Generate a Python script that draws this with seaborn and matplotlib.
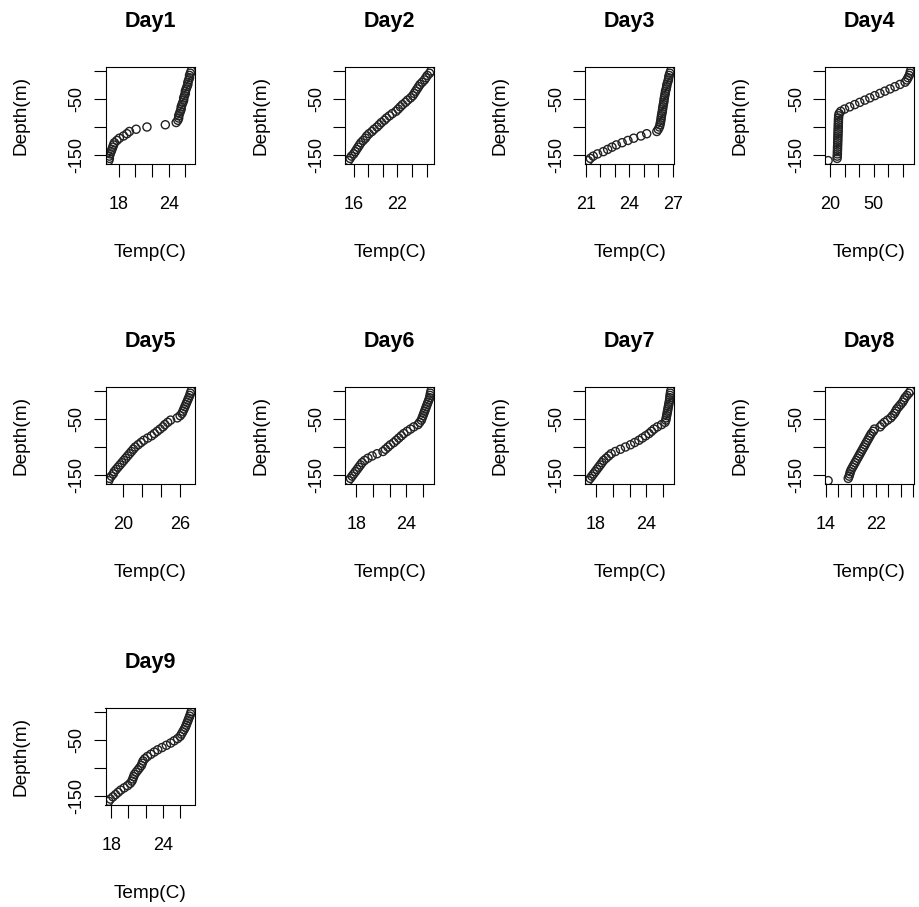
import matplotlib
matplotlib.use("Agg")
import matplotlib.pyplot as plt
import seaborn as sns
import pandas as pd

# Sampling depths (m), shared by every daily profile
DEPTH = [0, -4, -8, -12, -16, -20, -24, -28, -32, -36, -40, -44, -48, -52,
         -56, -60, -64, -68, -72, -76, -80, -84, -88, -92, -96, -100, -104,
         -108, -112, -116, -120, -124, -128, -132, -136, -140, -144, -148,
         -152, -156, -160]

DAYS = ["Day1", "Day2", "Day3", "Day4", "Day5", "Day6", "Day7", "Day8", "Day9"]

TEMP_DAY1 = [26.7, 26.6, 26.5, 26.5, 26.4, 26.3, 26.3, 26.2, 26.1, 26.0, 26.0,
             25.9, 25.8, 25.8, 25.7, 25.6, 25.5, 25.5, 25.4, 25.3, 25.2, 25.2,
             25.1, 24.9, 23.6, 21.4, 20.1, 19.3, 19.0, 18.6, 18.1, 17.8, 17.5,
             17.4, 17.3, 17.2, 17.1, 17.0, 16.9, 16.9, 16.83]
TEMP_DAY2 = [26.6, 26.4, 26.1, 25.9, 25.7, 25.4, 25.1, 24.9, 24.7, 24.5, 24.3,
             24.1, 23.8, 23.4, 23.1, 22.7, 22.4, 22.1, 21.8, 21.3, 20.9, 20.5,
             20.2, 19.8, 19.5, 19.2, 18.8, 18.5, 18.1, 17.8, 17.6, 17.3, 17.0,
             16.8, 16.6, 16.4, 16.2, 16.0, 15.7, 15.5, 15.3]
TEMP_DAY3 = [26.86, 26.8, 26.75, 26.72, 26.7, 26.65, 26.6, 26.58, 26.55, 26.5,
             26.48, 26.45, 26.42, 26.4, 26.38, 26.35, 26.32, 26.3, 26.28, 26.25,
             26.22, 26.2, 26.18, 26.15, 26.12, 26.08, 26.0, 25.9, 25.2, 24.8,
             24.3, 23.9, 23.5, 23.1, 22.8, 22.5, 22.2, 21.8, 21.5, 21.3, 21.16]
TEMP_DAY4 = [75.1, 74.8, 74.2, 73.4, 72.6, 71.4, 67.9, 64.5, 61.1, 57.6, 54.2,
             50.7, 47.3, 43.9, 40.4, 37.0, 33.5, 30.0, 27.4, 26.3, 26.0, 25.9,
             25.8, 25.8, 25.7, 25.7, 25.6, 25.6, 25.5, 25.5, 25.4, 25.4, 25.3,
             25.3, 25.2, 25.2, 25.1, 25.1, 25.0, 24.9, 18.75]
TEMP_DAY5 = [27.16, 27.08, 27.0, 26.9, 26.8, 26.7, 26.6, 26.5, 26.4, 26.3, 26.2,
             26.0, 25.7, 25.0, 24.7, 24.4, 24.2, 23.9, 23.6, 23.3, 23.0, 22.6,
             22.2, 21.9, 21.6, 21.3, 21.1, 20.9, 20.7, 20.5, 20.3, 20.1, 19.9,
             19.7, 19.5, 19.3, 19.1, 19.0, 18.8, 18.6, 18.53]
TEMP_DAY6 = [26.96, 26.9, 26.85, 26.8, 26.7, 26.6, 26.5, 26.4, 26.3, 26.2, 26.1,
             26.0, 25.9, 25.8, 25.6, 25.4, 24.9, 24.5, 24.1, 23.7, 23.4, 23.1,
             22.8, 22.5, 22.1, 21.8, 21.5, 21.2, 20.5, 19.9, 19.4, 19.0, 18.7,
             18.5, 18.3, 18.1, 17.9, 17.7, 17.5, 17.3, 17.08]
TEMP_DAY7 = [26.88, 26.85, 26.8, 26.78, 26.75, 26.7, 26.65, 26.6, 26.55, 26.5,
             26.45, 26.4, 26.35, 26.3, 26.2, 25.8, 25.3, 24.9, 24.6, 24.3, 23.9,
             23.5, 23.1, 22.6, 22.1, 21.5, 20.9, 20.3, 19.8, 19.5, 19.2, 18.9,
             18.7, 18.5, 18.3, 18.1, 17.9, 17.7, 17.5, 17.3, 17.08]
TEMP_DAY8 = [27.57, 27.3, 27.0, 26.7, 26.5, 26.3, 26.0, 25.7, 25.4, 25.2, 25.0,
             24.7, 24.4, 23.9, 23.4, 23.0, 22.7, 21.8, 21.6, 21.3, 21.1, 20.9,
             20.7, 20.5, 20.3, 20.1, 19.9, 19.7, 19.5, 19.3, 19.1, 18.9, 18.7,
             18.5, 18.3, 18.1, 17.95, 17.85, 17.75, 17.6, 14.38]
TEMP_DAY9 = [27.28, 27.2, 27.1, 27.0, 26.9, 26.8, 26.7, 26.6, 26.45, 26.3,
             26.15, 26.0, 25.7, 25.3, 24.9, 24.4, 23.9, 23.4, 23.0, 22.6, 22.2,
             21.9, 21.7, 21.6, 21.5, 21.3, 21.1, 20.9, 20.7, 20.6, 20.5, 20.4,
             20.2, 19.9, 19.5, 19.1, 18.8, 18.5, 18.2, 17.9, 17.72]

TEMPS = [TEMP_DAY1, TEMP_DAY2, TEMP_DAY3, TEMP_DAY4, TEMP_DAY5,
         TEMP_DAY6, TEMP_DAY7, TEMP_DAY8, TEMP_DAY9]

# Temperature axis ticks and the subset of ticks that carry a label
XTICKS = [[18, 20, 22, 24, 26], [16, 18, 20, 22, 24, 26],
          [21, 22, 23, 24, 25, 26, 27], [20, 30, 40, 50, 60, 70],
          [20, 22, 24, 26], [18, 20, 22, 24, 26], [18, 20, 22, 24, 26],
          [14, 16, 18, 20, 22, 24, 26, 28], [18, 20, 22, 24, 26]]
XLABELED = [[18, 24], [16, 22], [21, 24, 27], [20, 50], [20, 26],
            [18, 24], [18, 24], [14, 22], [18, 24]]
YTICKS = [-150, -100, -50, 0]
YLABELED = [-150, -50]

sns.set_theme(style="ticks")
plt.rcParams["font.family"] = ["Liberation Sans", "DejaVu Sans"]
plt.rcParams["axes.edgecolor"] = "black"
plt.rcParams["axes.linewidth"] = 0.8
plt.rcParams["xtick.color"] = "black"
plt.rcParams["ytick.color"] = "black"

W, H = 919, 907
fig = plt.figure(figsize=(W / 100, H / 100), dpi=100)
fig.patch.set_facecolor("white")

BOX_W, BOX_H = 89.0, 96.8
COL_LEFT = [105.5, 345.3, 585.0, 824.8]
ROW_TOP = [67.4, 387.4, 708.1]


def padded(lo, hi, frac=0.04):
    r = hi - lo
    return lo - frac * r, hi + frac * r


for i, (day, temps) in enumerate(zip(DAYS, TEMPS)):
    row, col = divmod(i, 4)
    left = COL_LEFT[col] / W
    bottom = 1 - (ROW_TOP[row] + BOX_H) / H
    ax = fig.add_axes([left, bottom, BOX_W / W, BOX_H / H])

    df = pd.DataFrame({"Temp": temps, "Depth": DEPTH})
    sns.scatterplot(data=df, x="Temp", y="Depth", ax=ax, marker="o", s=34,
                    linewidth=1.0, legend=False)
    coll = ax.collections[0]
    coll.set_facecolor("none")
    coll.set_edgecolor("#222222")

    ax.set_xlim(*padded(min(temps), max(temps)))
    ax.set_ylim(*padded(min(DEPTH), max(DEPTH)))

    ax.set_xticks(XTICKS[i])
    ax.set_xticklabels([str(t) if t in XLABELED[i] else "" for t in XTICKS[i]])
    ax.set_yticks(YTICKS)
    ax.set_yticklabels([str(t) if t in YLABELED else "" for t in YTICKS])

    ax.tick_params(axis="both", direction="out", length=9, width=0.8,
                   labelsize=13, colors="black")
    ax.tick_params(axis="x", pad=14)
    ax.tick_params(axis="y", pad=5.3, labelrotation=90)
    for t in ax.yaxis.get_major_ticks():
        t.label1.set_verticalalignment("center")

    for sp in ax.spines.values():
        sp.set_visible(True)
        sp.set_color("black")
        sp.set_linewidth(0.8)

    ax.set_xlabel("Temp(C)", fontsize=13.7, color="black")
    ax.set_ylabel("Depth(m)", fontsize=13.7, color="black")
    ax.xaxis.set_label_coords(0.5, -0.829)
    ax.yaxis.set_label_coords(-0.854, 0.5)
    ax.set_title(day, fontsize=15.5, fontweight="bold", pad=28.9, color="black")

fig.savefig("out.png", dpi=100, facecolor="white")
